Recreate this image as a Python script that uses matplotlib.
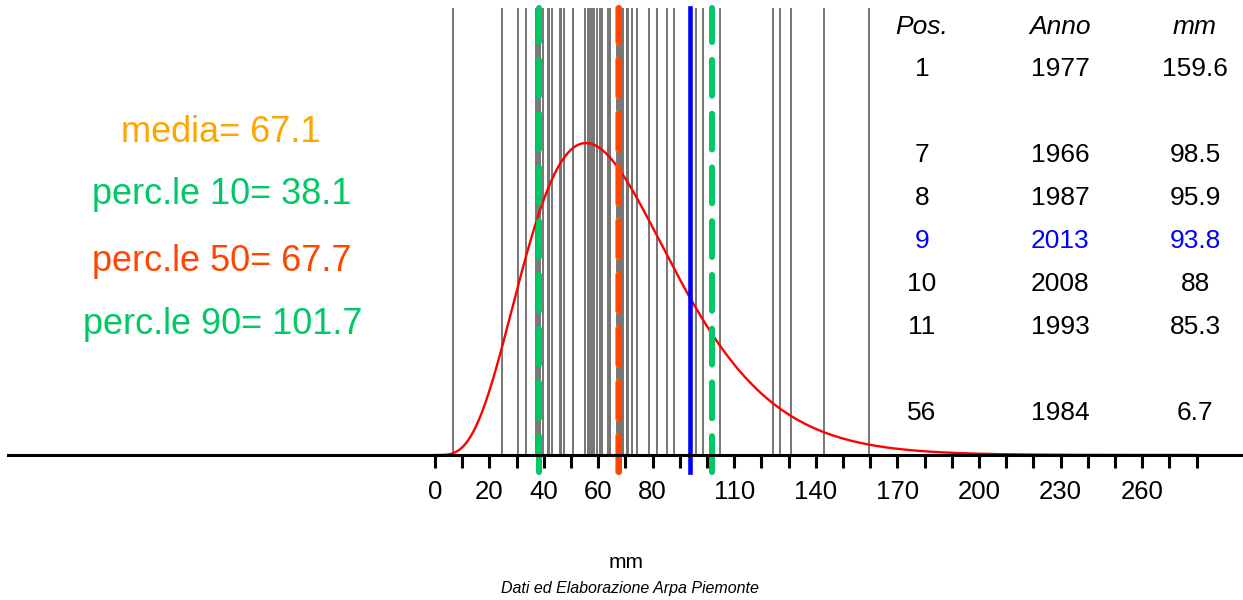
import math
import numpy as np
import matplotlib
matplotlib.use('Agg')
import matplotlib.pyplot as plt

plt.rcParams['font.family'] = ['Liberation Sans', 'DejaVu Sans']

# precipitazione annua (mm), un valore per anno (56 anni)
valori = [6.7, 24.5, 30.6, 33.5, 37.2, 37.8, 38.6, 39.8, 41.5, 42.0, 43.0, 46.0,
          46.5, 47.4, 50.8, 50.8, 55.1, 56.3, 56.8, 57.4, 58.0, 58.5, 59.6, 60.7,
          60.7, 61.4, 63.6, 64.3, 64.3, 67.0, 67.5, 67.9, 68.2, 68.8, 69.3, 70.6,
          70.6, 71.0, 72.4, 72.4, 74.3, 74.3, 78.7, 81.6, 81.6, 85.3, 88.0, 93.8,
          95.9, 98.5, 104.8, 124.3, 126.8, 130.9, 143.0, 159.6]

media = 67.1
p10 = 38.1
p50 = 67.7
p90 = 101.7
valore_anno = 93.8   # 2013

# parametri della gamma adattata
shape = 5.15
rate = 0.0748

tick_vals = list(range(0, 281, 10))
tick_labels = [0, 20, 40, 60, 80, 110, 140, 170, 200, 230, 260]

# tabella classifica
pos = ['1', '7', '8', '9', '10', '11', '56']
anni = ['1977', '1966', '1987', '2013', '2008', '1993', '1984']
mm = ['159.6', '98.5', '95.9', '93.8', '88', '85.3', '6.7']
righe = [1, 3, 4, 5, 6, 7, 9]

W, H = 1243, 600
x0px, pxu = 435.0, 2.72   # pixel of 0 mm, pixels per mm
yaxis_px = 455.0

xs = np.linspace(0, 280, 561)
dens = rate**shape * xs**(shape - 1) * np.exp(-rate * xs) / math.gamma(shape)
ppu = 312.0 / dens.max()   # pixels per density unit

fig = plt.figure(figsize=(W / 100, H / 100), dpi=100)
ax = fig.add_axes([0, 0, 1, 1])
ax.set_xlim(-x0px / pxu, (W - x0px) / pxu)
ax.set_ylim(-(H - yaxis_px) / ppu, yaxis_px / ppu)
ax.axis('off')

top = (yaxis_px - 8) / ppu
bot = -17 / ppu

ax.vlines(valori, 0, top, color='#767676', lw=1.4, zorder=1)
ax.plot(xs, dens, color='red', lw=1.7, zorder=2)

dash_kw = dict(lw=4.3, dashes=(6, 3), dash_capstyle='round', zorder=3)
ax.plot([media, media], [bot, top], color='#FFA500', **dash_kw)
ax.plot([p50, p50], [bot, top], color='#FF4500', **dash_kw)
ax.plot([p10, p10], [bot, top], color='#00C864', **dash_kw)
ax.plot([p90, p90], [bot, top], color='#00C864', **dash_kw)
ax.plot([valore_anno, valore_anno], [bot, top], color='blue', lw=3.3, zorder=4)

ax.plot([(8 - x0px) / pxu, (W - x0px) / pxu], [0, 0], color='black', lw=2.2, zorder=5)
ax.vlines(tick_vals, -13 / ppu, 0, color='black', lw=2.2, zorder=5)
for v in tick_labels:
    ax.text(v, -37 / ppu, str(v), ha='center', va='center', fontsize=18.5)

def fx(px):
    return px / W

def fy(py):
    return 1 - py / H

# etichette a sinistra
fig.text(fx(221), fy(133), 'media= %.1f' % media, color='#FFA500', fontsize=26, ha='center', va='center')
fig.text(fx(222), fy(195), 'perc.le 10= %.1f' % p10, color='#00C864', fontsize=26, ha='center', va='center')
fig.text(fx(222), fy(261), 'perc.le 50= %.1f' % p50, color='#FF4500', fontsize=26, ha='center', va='center')
fig.text(fx(223), fy(324), 'perc.le 90= %.1f' % p90, color='#00C864', fontsize=26, ha='center', va='center')

# tabella
cols = [922, 1060, 1195]
for c, h in zip(cols, ['Pos.', 'Anno', 'mm']):
    fig.text(fx(c), fy(27), h, style='italic', fontsize=19, ha='center', va='center')
for p, a, m, r in zip(pos, anni, mm, righe):
    col = 'blue' if a == '2013' else 'black'
    yy = 26 + 43 * r
    for c, t in zip(cols, [p, a, m]):
        fig.text(fx(c), fy(yy), t, color=col, fontsize=19, ha='center', va='center')

fig.text(fx(626), fy(562), 'mm', fontsize=15, ha='center', va='center')
fig.text(fx(630), fy(589), 'Dati ed Elaborazione Arpa Piemonte', style='italic',
         fontsize=11.5, ha='center', va='center')

fig.savefig('out.png', dpi=100)
